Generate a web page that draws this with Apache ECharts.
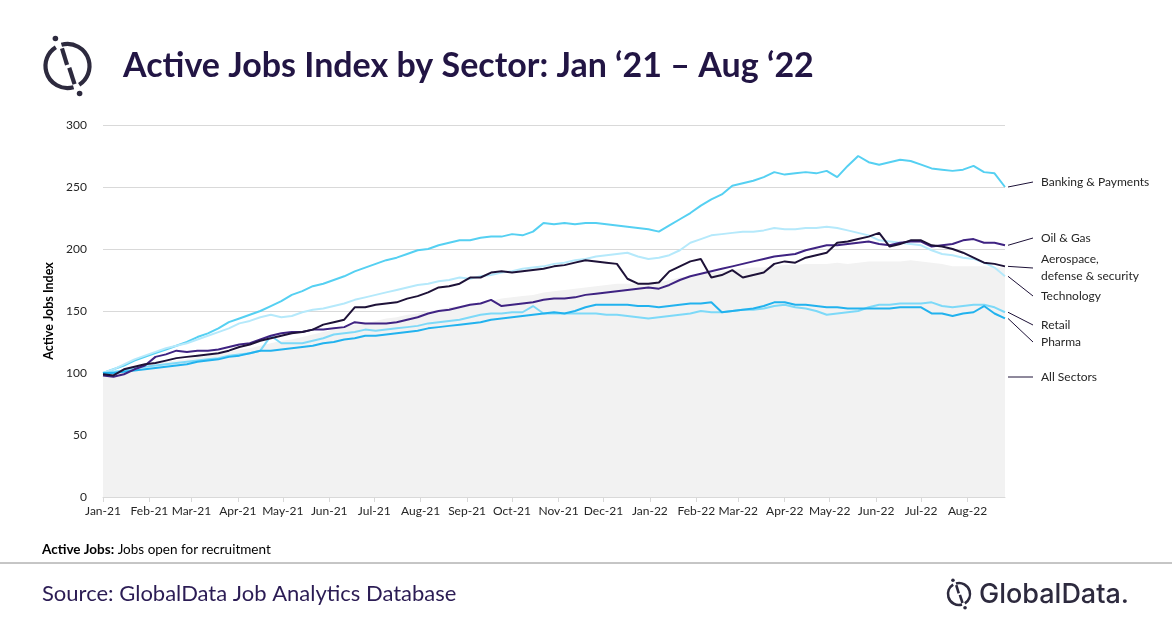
<!DOCTYPE html>
<html>
<head>
<meta charset="utf-8">
<script src="https://cdn.jsdelivr.net/npm/echarts@6/dist/echarts.min.js"></script>
<style>
  html, body { margin: 0; padding: 0; background: #fff; }
  #chart { width: 1172px; height: 628px; }
</style>
</head>
<body>
<div id="chart"></div>
<script>
// weekly readings, first week starts 1 Jan 2021
const weekCount = 87
const monthNames = ['Jan','Feb','Mar','Apr','May','Jun','Jul','Aug','Sep','Oct','Nov','Dec']

const banking = [100,103,106,110,113,116,119,122,125,129,
  132,136,141,144,147,150,154,158,163,166,
  170,172,175,178,182,185,188,191,193,196,
  199,200,203,205,207,207,209,210,210,212,
  211,214,221,220,221,220,221,221,220,219,
  218,217,216,214,219,224,229,235,240,244,
  251,253,255,258,262,260,261,262,261,263,
  258,267,275,270,268,270,272,271,268,265,
  264,263,264,267,262,261,250]

const oilGas = [98,97,99,103,106,113,115,118,117,118,
  118,119,121,123,124,127,130,132,133,133,
  135,135,136,137,141,140,140,140,141,143,
  145,148,150,151,153,155,156,159,154,155,
  156,157,159,160,160,161,163,164,165,166,
  167,168,169,168,171,175,178,180,182,184,
  186,188,190,192,194,195,196,199,201,203,
  203,204,205,206,204,203,205,206,206,202,
  203,204,207,208,205,205,203]

const aerospace = [99,98,103,105,107,108,110,112,113,114,
  115,116,118,121,123,126,128,130,132,133,
  135,139,141,143,153,153,155,156,157,160,
  162,165,169,170,172,177,177,181,182,181,
  182,183,184,186,187,189,191,190,189,188,
  176,172,172,173,182,186,190,192,177,179,
  183,177,179,181,188,190,189,193,195,197,
  205,206,208,210,213,202,204,207,207,203,
  202,200,197,193,189,188,186]

const technology = [100,103,107,111,114,117,120,122,124,127,
  130,133,136,140,142,145,147,145,146,149,
  151,152,154,156,159,161,163,165,167,169,
  171,172,174,175,177,176,178,179,181,182,
  184,185,186,188,189,191,192,194,195,196,
  197,194,192,193,195,199,205,208,211,212,
  213,214,214,215,217,216,216,217,217,218,
  217,215,213,211,207,206,205,204,203,199,
  196,195,193,192,189,185,178]

const retail = [100,101,102,104,105,106,107,108,109,110,
  111,112,114,115,116,118,130,124,124,124,
  126,128,131,132,133,135,134,135,136,137,
  138,140,141,142,143,145,147,148,148,149,
  149,154,148,148,148,148,148,148,147,147,
  146,145,144,145,146,147,148,150,149,149,
  150,151,151,152,154,155,153,152,150,147,
  148,149,150,153,155,155,156,156,156,157,
  154,153,154,155,155,153,149]

const pharma = [100,100,101,102,103,104,105,106,107,109,
  110,111,113,114,116,118,118,119,120,121,
  122,124,125,127,128,130,130,131,132,133,
  134,136,137,138,139,140,141,143,144,145,
  146,147,148,149,148,150,153,155,155,155,
  155,154,154,153,154,155,156,156,157,149,
  150,151,152,154,157,157,155,155,154,153,
  153,152,152,152,152,152,153,153,153,148,
  148,146,148,149,154,148,144]

const allSectors = [100,101,103,104,106,107,109,110,111,113,
  114,116,117,119,120,122,124,126,127,129,
  131,133,135,137,139,140,142,144,145,147,
  148,150,151,153,154,156,157,158,160,161,
  162,163,165,166,167,168,169,170,171,172,
  172,172,172,173,175,177,178,180,181,182,
  183,184,185,185,186,187,187,188,188,188,
  189,188,189,190,190,190,190,191,190,189,
  188,186,186,186,186,185,185]

const yTicks = [0, 50, 100, 150, 200, 250, 300]

let dates = []
for (let i = 0; i < weekCount; i++) {
  dates.push(new Date(2021, 0, 1 + i * 7).getTime())
}

function pairs(vals) {
  return vals.map(function (v, i) { return [dates[i], v] })
}

const FONT = 'Lato, "Open Sans", sans-serif'
const NAVY = '#1e1238'

// name, data, colour, label lines, label y
const lines = [
  { name: 'Banking & Payments', data: banking, color: '#55d0f2', label: ['Banking & Payments'], ly: 182 },
  { name: 'Technology', data: technology, color: '#b5e9fb', label: ['Technology'], ly: 296 },
  { name: 'Retail', data: retail, color: '#7dd9f8', label: ['Retail'], ly: 325 },
  { name: 'Pharma', data: pharma, color: '#22b2ee', label: ['Pharma'], ly: 342 },
  { name: 'Oil & Gas', data: oilGas, color: '#3f2382', label: ['Oil & Gas'], ly: 238 },
  { name: 'Aerospace, defense & security', data: aerospace, color: NAVY, label: ['Aerospace,', 'defense & security'], ly: 268 }
]

let series = [{
  name: 'All Sectors',
  type: 'line',
  data: pairs(allSectors),
  showSymbol: false,
  lineStyle: { width: 0 },
  areaStyle: { color: '#f2f2f2', opacity: 1 },
  silent: true,
  z: 1
}]
lines.forEach(function (s) {
  series.push({
    name: s.name,
    type: 'line',
    data: pairs(s.data),
    showSymbol: false,
    lineStyle: { color: s.color, width: 2 },
    itemStyle: { color: s.color },
    z: 3
  })
})

let chart = echarts.init(document.getElementById('chart'))

chart.setOption({
  animation: false,
  backgroundColor: '#fff',
  grid: { left: 103, right: 167, top: 125, bottom: 131 },
  xAxis: {
    type: 'time',
    min: dates[0],
    max: dates[dates.length - 1],
    splitNumber: 20,
    minInterval: 28 * 86400000,
    maxInterval: 31 * 86400000,
    axisLine: { lineStyle: { color: '#d9d9d9', width: 1 } },
    axisTick: { show: true, length: 5, lineStyle: { color: '#d9d9d9' } },
    splitLine: { show: false },
    axisLabel: {
      color: '#262626',
      fontSize: 12,
      fontFamily: FONT,
      margin: 8,
      hideOverlap: false,
      formatter: function (val) {
        let d = new Date(val)
        return monthNames[d.getMonth()] + '-' + String(d.getFullYear()).slice(2)
      }
    }
  },
  yAxis: {
    type: 'value',
    min: yTicks[0],
    max: yTicks[yTicks.length - 1],
    interval: 50,
    name: 'Active Jobs Index',
    nameLocation: 'middle',
    nameGap: 46,
    nameTextStyle: { color: '#000', fontWeight: 'bold', fontSize: 12.5, fontFamily: FONT },
    axisLine: { show: false },
    axisTick: { show: false },
    splitLine: { lineStyle: { color: '#d9d9d9', width: 1 } },
    axisLabel: { color: '#262626', fontSize: 12, fontFamily: FONT, margin: 16 }
  },
  series: series
})

// logo icon: broken ring, slash and two dots
function logoIcon(cx, cy, r, w, dot) {
  let c = '#2d2a3e'
  let rad = Math.PI / 180
  return [
    { type: 'arc', shape: { cx: cx, cy: cy, r: r, startAngle: -106 * rad, endAngle: 58 * rad, clockwise: true },
      style: { stroke: c, lineWidth: w, fill: null } },
    { type: 'arc', shape: { cx: cx, cy: cy, r: r, startAngle: 74 * rad, endAngle: 238 * rad, clockwise: true },
      style: { stroke: c, lineWidth: w, fill: null } },
    { type: 'polyline', shape: { points: [
        [cx - r * 0.25, cy - r * 0.8], [cx - r * 0.02, cy - r * 0.05]] },
      style: { stroke: c, lineWidth: w, fill: null } },
    { type: 'polyline', shape: { points: [
        [cx + r * 0.08, cy + r * 0.08], [cx + r * 0.32, cy + r * 0.82]] },
      style: { stroke: c, lineWidth: w, fill: null } },
    { type: 'circle', shape: { cx: cx - r * 0.55, cy: cy - r * 1.25, r: dot }, style: { fill: c } },
    { type: 'circle', shape: { cx: cx + r * 0.55, cy: cy + r * 1.25, r: dot }, style: { fill: c } }
  ]
}

let graphic = []
graphic = graphic.concat(logoIcon(67.5, 66, 22, 4.2, 2.8))
graphic = graphic.concat(logoIcon(959, 594, 11, 2.6, 1.8))

graphic.push({
  type: 'text',
  style: { text: 'Active Jobs Index by Sector: Jan \u201821 \u2013 Aug \u201822', x: 123, y: 66,
    fill: '#221544', font: 'bold 34px ' + FONT, textVerticalAlign: 'middle' }
})
graphic.push({
  type: 'text',
  style: { text: '{b|Active Jobs:} Jobs open for recruitment', x: 42, y: 550,
    fill: '#000', fontSize: 13.5, fontFamily: FONT, textVerticalAlign: 'middle',
    rich: { b: { fontWeight: 'bold', fontSize: 13.5, fontFamily: FONT, fill: '#000' } } }
})
graphic.push({
  type: 'line',
  shape: { x1: 0, y1: 563, x2: 1172, y2: 563 },
  style: { stroke: '#8c8c8c', lineWidth: 1 }
})
graphic.push({
  type: 'text',
  style: { text: 'Source: GlobalData Job Analytics Database', x: 42, y: 594,
    fill: '#2b1c54', fontSize: 22, fontFamily: FONT, textVerticalAlign: 'middle' }
})
graphic.push({
  type: 'text',
  style: { text: 'GlobalData.', x: 979, y: 595,
    fill: '#2d2a3e', fontSize: 27, fontWeight: 500, fontFamily: 'Inter, Roboto, sans-serif', textVerticalAlign: 'middle' }
})

// right side labels with leader lines
const labelX = 1041
const leaderX = 1033
function addLabel(textLines, ly, endPt) {
  graphic.push({
    type: 'line',
    shape: { x1: endPt[0] + 3, y1: endPt[1], x2: leaderX, y2: ly },
    style: { stroke: NAVY, lineWidth: 1 }
  })
  let top = ly - (textLines.length - 1) * 8.5
  textLines.forEach(function (t, k) {
    graphic.push({
      type: 'text',
      style: { text: t, x: labelX, y: top + k * 17, fill: '#262626', fontSize: 12,
        fontFamily: FONT, textVerticalAlign: 'middle' }
    })
  })
}
lines.forEach(function (s) {
  let last = s.data.length - 1
  let p = chart.convertToPixel({ xAxisIndex: 0, yAxisIndex: 0 }, [dates[last], s.data[last]])
  addLabel(s.label, s.ly, p)
})
let lastAll = chart.convertToPixel({ xAxisIndex: 0, yAxisIndex: 0 }, [dates[weekCount - 1], 100])
addLabel(['All Sectors'], 377, [lastAll[0], 377])

chart.setOption({ graphic: graphic })
</script>
</body>
</html>
